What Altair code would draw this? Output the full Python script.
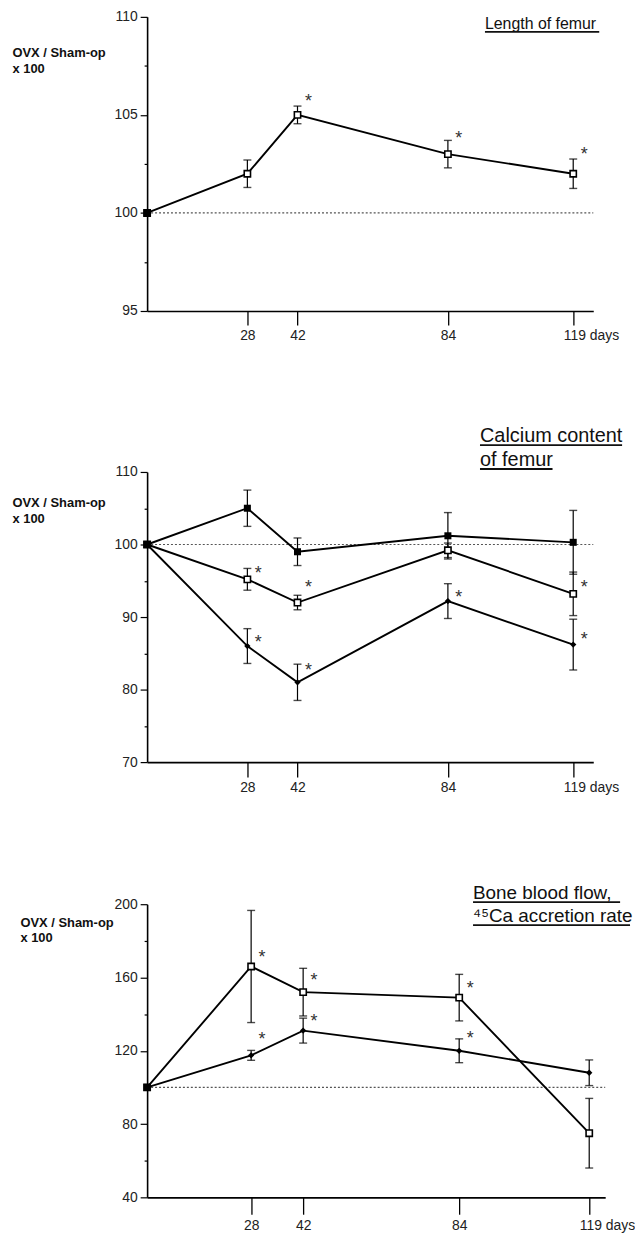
import altair as alt
import pandas as pd

FONT = "Liberation Sans"

DAYS = [0, 28, 42, 84, 119]
X_TICKS = [28, 42, 84, 119]

# Panel 1 - length of femur (OVX / Sham-op x 100)
LEN_MEAN = [100, 102, 105, 103, 102]
LEN_ERR = [0, 0.7, 0.45, 0.7, 0.75]
LEN_STAR_DAYS = [42, 84, 119]
LEN_STAR_Y = [105.9, 104.0, 103.2]

# Panel 2 - calcium content of femur
CA_A_MEAN = [100, 105, 99, 101.2, 100.3]
CA_A_ERR = [0, 2.5, 1.9, 3.2, 4.4]
CA_B_MEAN = [100, 95.2, 92, 99.2, 93.2]
CA_B_ERR = [0, 1.5, 1.0, 1.0, 3.0]
CA_C_MEAN = [100, 86, 81, 92.2, 86.2]
CA_C_ERR = [0, 2.4, 2.5, 2.4, 3.5]
CA_STAR_DAYS = [28, 42, 119, 28, 42, 84, 119]
CA_STAR_Y = [96.6, 94.7, 94.7, 87.1, 83.3, 93.3, 87.5]

# Panel 3 - bone blood flow, 45Ca accretion rate
BF_SQ_MEAN = [100, 166, 152, 149, 75]
BF_SQ_ERR = [0, 30.6, 13, 12.7, 19]
BF_DI_MEAN = [100, 117.5, 131, 120, 108]
BF_DI_ERR = [0, 2.7, 6.8, 6.5, 7]
BF_STAR_DAYS = [28, 42, 84, 28, 42, 84]
BF_STAR_Y = [173.4, 161, 156.6, 128.4, 138.2, 129]

Y_TITLE = ["OVX / Sham-op", " x 100"]
TITLE1 = "Length of femur"
TITLE2 = ["Calcium content", "of femur"]
TITLE3 = ["Bone blood flow,", "\u2074\u2075Ca accretion rate"]
REF_VALUE = 100


def x_enc(field, xmax, tick):
    return alt.X(
        field + ":Q",
        scale=alt.Scale(domain=[0, xmax], nice=False, zero=False),
        axis=alt.Axis(
            values=X_TICKS, title=None, grid=False,
            domainColor="black", domainWidth=1.6,
            tickColor="black", tickWidth=1.3, tickSize=tick,
            labelPadding=4, labelFont=FONT, labelFontSize=14, labelColor="#222",
            labelFlush=False,
            labelExpr="datum.value == 119 ? '119 days' : datum.label",
            labelAlign={"condition": {"test": "datum.value == 119", "value": "left"}, "value": "center"},
            labelOffset={"condition": {"test": "datum.value == 119", "value": -10}, "value": 0},
        ),
    )


def y_enc(field, ydom, yvals, major, title_x, title_y):
    return alt.Y(
        field + ":Q",
        scale=alt.Scale(domain=ydom, nice=False, zero=False),
        axis=alt.Axis(
            values=yvals, grid=False,
            domainColor="black", domainWidth=1.6,
            tickColor="black", tickWidth=1.2,
            tickSize={"condition": {"test": f"datum.value % {major} === 0", "value": 7}, "value": 3},
            labelExpr=f"datum.value % {major} === 0 ? datum.label : ''",
            labelPadding=3, labelFont=FONT, labelFontSize=14, labelColor="#222",
            title=Y_TITLE, titleAngle=0, titleAlign="left", titleBaseline="top",
            titleX=title_x, titleY=title_y, titleFont=FONT, titleFontSize=13,
            titleFontWeight="bold", titleLineHeight=16, titleColor="#111",
        ),
    )


def panel(series, star_days, star_y, ydom, yvals, major, width, height, xmax, tick,
          title_x, title_y, titles, extender=None):
    layers = []

    def Y(f):
        return y_enc(f, ydom, yvals, major, title_x, title_y)

    def X(f):
        return x_enc(f, xmax, tick)

    ref = pd.DataFrame({"x0": [0], "x1": [xmax], "y": [REF_VALUE]})
    layers.append(
        alt.Chart(ref).mark_rule(color="#555", strokeDash=[2, 2], strokeWidth=1.2).encode(
            x=X("x0"), x2="x1:Q", y=Y("y")
        )
    )
    for mean, err, style in series:
        df = pd.DataFrame({"day": DAYS, "m": mean, "e": err})
        df["lo"] = df["m"] - df["e"]
        df["hi"] = df["m"] + df["e"]
        base = alt.Chart(df)
        layers.append(base.mark_line(color="black", strokeWidth=1.9).encode(x=X("day"), y=Y("m")))
        eb = base.transform_filter("datum.e > 0")
        layers.append(eb.mark_rule(color="black", strokeWidth=1.2).encode(
            x=X("day"), y=Y("lo"), y2="hi:Q"))
        for f in ("lo", "hi"):
            layers.append(eb.mark_tick(orient="horizontal", size=8, thickness=1.4,
                                       color="black").encode(x=X("day"), y=Y(f)))
        if style == "open":
            pm = base.mark_point(shape="square", size=40, filled=False, fill="white",
                                 fillOpacity=1, stroke="black", strokeWidth=1.6, opacity=1)
        elif style == "filled":
            pm = base.mark_point(shape="square", size=50, filled=True, color="black", opacity=1)
        else:
            pm = base.mark_point(shape="diamond", size=40, filled=True, color="black", opacity=1)
        layers.append(pm.encode(x=X("day"), y=Y("m")))
    # common starting point drawn solid
    origin = pd.DataFrame({"day": [DAYS[0]], "m": [REF_VALUE]})
    layers.append(alt.Chart(origin).mark_point(shape="square", size=50, filled=True,
                                               color="black", opacity=1).encode(
        x=X("day"), y=Y("m")))
    stars = pd.DataFrame({"day": star_days, "y": star_y})
    layers.append(alt.Chart(stars).mark_text(text="*", font=FONT, fontSize=18,
                                             dx=11, dy=5, baseline="middle", color="#333").encode(
        x=X("day"), y=Y("y")))
    for txt, tx, ty, fs, u0, u1 in titles:
        t = pd.DataFrame({"t": [txt]})
        layers.append(alt.Chart(t).mark_text(align="left", baseline="alphabetic", font=FONT,
                                             fontSize=fs, color="#111").encode(
            text="t:N", x=alt.value(tx), y=alt.value(ty)))
        layers.append(alt.Chart(t).mark_rule(color="#111", strokeWidth=1.8).encode(
            x=alt.value(u0), x2=alt.value(u1), y=alt.value(ty + 3)))
    if extender is not None:
        ex, ey = extender
        t = pd.DataFrame({"t": [""]})
        layers.append(alt.Chart(t).mark_rule(opacity=0, strokeWidth=0.1).encode(
            x=alt.value(ex), x2=alt.value(ex + 1), y=alt.value(ey)))
    return alt.layer(*layers).properties(width=width, height=height)


p1 = panel(
    [(LEN_MEAN, LEN_ERR, "open")], LEN_STAR_DAYS, LEN_STAR_Y,
    [95, 110], [95, 97.5, 100, 102.5, 105, 107.5, 110], 5, 449, 296, 124.6, 14, -136, 30,
    [(TITLE1, 340, 12, 16, 340, 455)],
)
p2 = panel(
    [(CA_A_MEAN, CA_A_ERR, "filled"), (CA_B_MEAN, CA_B_ERR, "open"), (CA_C_MEAN, CA_C_ERR, "diamond")],
    CA_STAR_DAYS, CA_STAR_Y,
    [70, 110], [70, 75, 80, 85, 90, 95, 100, 105, 110], 10, 449, 292, 124.6, 15, -136, 25,
    [(TITLE2[0], 335, -30, 20, 335, 478), (TITLE2[1], 335, -6, 20, 335, 408)],
)
p3 = panel(
    [(BF_SQ_MEAN, BF_SQ_ERR, "open"), (BF_DI_MEAN, BF_DI_ERR, "diamond")],
    BF_STAR_DAYS, BF_STAR_Y,
    [40, 200], [40, 60, 80, 100, 120, 140, 160, 180, 200], 40, 461, 295, 123.3, 17, -128, 12,
    [(TITLE3[0], 328, -5, 19, 328, 476), (TITLE3[1], 328, 18, 19, 328, 486)],
    extender=(-136, -26),
)

chart = alt.concat(p1, p2, p3, columns=1, spacing=84, align="none").properties(
    padding={"left": 4, "top": -2, "right": 0, "bottom": 2}
).configure_view(stroke=None)

chart.save("out.html", embed_options={"renderer": "svg", "actions": False})
